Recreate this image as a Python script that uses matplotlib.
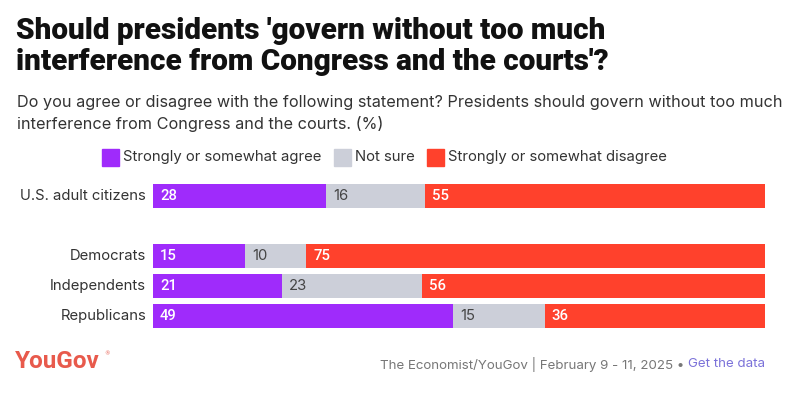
import matplotlib
matplotlib.use("Agg")
import matplotlib.pyplot as plt
from matplotlib.patches import Rectangle

# data
grupos = ["U.S. adult citizens", "Democrats", "Independents", "Republicans"]
posiciones = [0, 2, 3, 4]
acuerdo = [28, 15, 21, 49]
no_seguro = [16, 10, 23, 15]
desacuerdo = [55, 75, 56, 36]
series = ["Strongly or somewhat agree", "Not sure", "Strongly or somewhat disagree"]

colores = ["#9F2BFB", "#CCCFD9", "#FF412C"]
texto_color = ["white", "#444444", "white"]

W, H = 803, 393
fig = plt.figure(figsize=(W / 100, H / 100), dpi=100)

def fx(px):
    return px / W

def fy(py):
    return 1 - py / H

# zona de barras en pixeles: x 153-765, y 181-331
ax = fig.add_axes([fx(153), fy(331), fx(765) - fx(153), (331 - 181) / H])
ax.set_xlim(0, 1)
ax.set_ylim(4.5, -0.5)
ax.axis("off")

for i, pos in enumerate(posiciones):
    vals = [acuerdo[i], no_seguro[i], desacuerdo[i]]
    total = sum(vals)
    izq = 0
    for j, v in enumerate(vals):
        w = v / total
        ax.barh(pos, w, left=izq, height=0.83, color=colores[j], linewidth=0)
        ax.text(izq + 7 / 612, pos, str(v), va="center", ha="left",
                color=texto_color[j], fontsize=10.7,
                family="Roboto" if j != 1 else "Inter",
                fontweight="medium" if j != 1 else "normal")
        izq += w
    ax.text(-7 / 612, pos, grupos[i], ha="right", va="center", fontsize=10.7,
            family="Inter", color="#333333")

# titulo y subtitulo
fig.text(fx(16), fy(31), "Should presidents 'govern without too much", fontsize=21.4,
         fontweight="black", family="Roboto", va="center", color="#111111")
fig.text(fx(16), fy(62), "interference from Congress and the courts'?", fontsize=21.4,
         fontweight="black", family="Roboto", va="center", color="#111111")
fig.text(fx(17), fy(103), "Do you agree or disagree with the following statement? Presidents should govern without too much",
         fontsize=11.7, family="Inter", va="center", color="#333333")
fig.text(fx(17), fy(124), "interference from Congress and the courts. (%)",
         fontsize=11.7, family="Inter", va="center", color="#333333")

# leyenda
leg_x = [102, 334, 427]
for k, nombre in enumerate(series):
    fig.patches.append(Rectangle((fx(leg_x[k]), fy(166)), 17 / W, 17 / H,
                                 transform=fig.transFigure, color=colores[k]))
    fig.text(fx(leg_x[k] + 21), fy(157), nombre, fontsize=10.7, family="Inter",
             va="center", color="#333333")

# pie
fig.text(fx(15), fy(361), "YouGov", fontsize=17.5, fontweight="bold",
         family="Roboto", color="#E85A4C", va="center")
fig.text(fx(104), fy(354), "\u00ae", fontsize=4, family="DejaVu Sans",
         color="#E85A4C", va="center")
enlace = fig.text(fx(765), fy(364), "Get the data", fontsize=9.6,
                  family="Inter", color="#7B72D9", va="center", ha="right")
fig.canvas.draw()
bb = enlace.get_window_extent()
fig.text(bb.x0 / W, fy(364), "The Economist/YouGov | February 9 - 11, 2025 \u2022 ",
         fontsize=9.6, family="Inter", color="#777777", va="center", ha="right")

fig.savefig("out.png", dpi=100, facecolor="white")
